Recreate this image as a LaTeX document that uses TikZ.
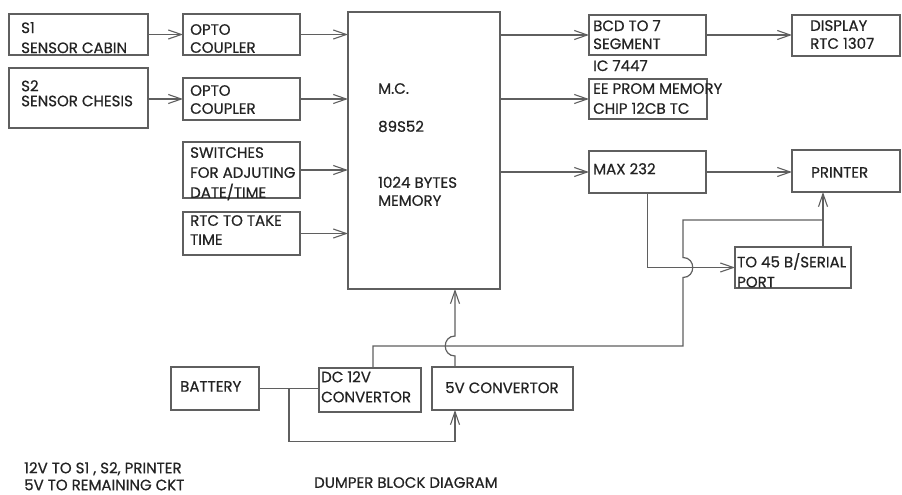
\documentclass[tikz,border=0pt]{standalone}
\usepackage{fontspec}
\setmainfont{Poppins}
\newfontfamily\lblfont{Poppins}[FakeBold=0.6]
\usetikzlibrary{arrows.meta,calc}
\definecolor{ln}{RGB}{95,95,95}
\definecolor{tx}{RGB}{35,35,35}
\begin{document}
\begin{tikzpicture}[x=1pt,y=-1pt,
  box/.style={draw=ln,line width=1.3pt,inner sep=0pt,outer sep=0pt,anchor=north west},
  lbl/.style={anchor=north west,inner sep=0pt,align=left,text=tx,font=\lblfont\fontsize{15}{19}\selectfont},
  wire/.style={draw=ln,line width=1.2pt},
  arr/.style={wire,-{Straight Barb[length=13pt,width=9pt,line width=1.1pt]}}]
\useasboundingbox (0,0) rectangle (902,495);
% boxes
\node[box,minimum width=139pt,minimum height=41pt] (s1) at (9,14) {};
\node[box,minimum width=139pt,minimum height=60pt] (s2) at (9,68) {};
\node[box,minimum width=117pt,minimum height=41pt] (o1) at (183,14) {};
\node[box,minimum width=117pt,minimum height=42pt] (o2) at (183,78) {};
\node[box,minimum width=117pt,minimum height=56pt] (sw) at (183,142) {};
\node[box,minimum width=117pt,minimum height=43pt] (rtc) at (183,212) {};
\node[box,minimum width=152pt,minimum height=277pt] (mc) at (348,12) {};
\node[box,minimum width=117pt,minimum height=40pt] (bcd) at (589,15) {};
\node[box,minimum width=118pt,minimum height=40pt] (ee) at (589,79) {};
\node[box,minimum width=108pt,minimum height=41pt] (disp) at (792,15) {};
\node[box,minimum width=117pt,minimum height=42pt] (max) at (589,151) {};
\node[box,minimum width=108pt,minimum height=42pt] (prn) at (792,150) {};
\node[box,minimum width=116pt,minimum height=41pt] (to45) at (735,247) {};
\node[box,minimum width=88pt,minimum height=43pt] (bat) at (171,367) {};
\node[box,minimum width=102pt,minimum height=44pt] (dc) at (319,368) {};
\node[box,minimum width=141pt,minimum height=43pt] (v5) at (432,367) {};
% labels
\node[lbl] (ts1) at (21,22) {S1\\[1pt]SENSOR CABIN};
\node[lbl] (ts2) at (21,80) {S2\\[-4pt]SENSOR CHESIS};
\node[lbl] (to1) at (190,24) {OPTO\\[-1pt]COUPLER};
\node[lbl] (to2) at (190,85) {OPTO\\[-1pt]COUPLER};
\node[lbl] (tsw) at (190,147) {SWITCHES\\[1pt]FOR ADJUTING\\[1pt]DATE/TIME};
\node[lbl] (trtc) at (190,215) {RTC TO TAKE\\TIME};
\node[lbl] (tmc) at (378,83) {M.C.\\[19pt]89S52\\[37pt]1024 BYTES\\[-1pt]MEMORY};
\node[lbl] (tbcd) at (593,20) {BCD TO 7\\[-1pt]SEGMENT\\[3pt]IC 7447};
\node[lbl] (tee) at (593,83) {EE PROM MEMORY\\[1pt]CHIP 12CB TC};
\node[lbl] (tdisp) at (810,20) {DISPLAY\\[-1pt]RTC 1307};
\node[lbl] (tmax) at (593,163) {MAX 232};
\node[lbl] (tprn) at (811,167) {PRINTER};
\node[lbl] (tto45) at (737,253) {TO 45 B/SERIAL\\[1pt]PORT};
\node[lbl] (tbat) at (180,381) {BATTERY};
\node[lbl] (tdc) at (321,371) {DC 12V\\[1pt]CONVERTOR};
\node[lbl] (tv5) at (445,382) {5V CONVERTOR};
\node[lbl] (tnote) at (24,462) {12V TO S1 , S2, PRINTER\\[-2pt]5V TO REMAINING CKT};
\node[lbl] (ttitle) at (314,477) {DUMPER BLOCK DIAGRAM};
% connectors
\draw[arr] (s1.east) -- (o1.west);
\draw[arr] (s2.east |- o2.west) -- (o2.west);
\draw[arr] (o1.east) -- (o1.east -| mc.west);
\draw[arr] (o2.east) -- (o2.east -| mc.west);
\draw[arr] (sw.east) -- (sw.east -| mc.west);
\draw[arr] (rtc.east) -- (rtc.east -| mc.west);
\draw[arr] (mc.east |- bcd.west) -- (bcd.west);
\draw[arr] (mc.east |- ee.west) -- (ee.west);
\draw[arr] (mc.east |- max.west) -- (max.west);
\draw[arr] (bcd.east) -- (bcd.east -| disp.west);
\draw[arr] (max.east) -- (max.east -| prn.west);
\draw[arr] (max.south) |- (to45.west);
% serial port to printer
\coordinate (tp) at ($(to45.north west)+(88,0)$);
\coordinate (jn) at ($(tp)+(0,-27)$);
\draw[arr] (tp) -- (tp |- prn.south);
% 12V line to printer
\coordinate (d12) at ($(dc.north west)+(54,0)$);
\coordinate (rx) at (683,346);
\draw[wire] (d12) |- (rx) -- ($(rx |- to45.west)+(0,10)$)
  .. controls +(13,0) and +(13,0) .. ++(0,-20) -- (rx |- jn) -- (jn);
% 5V to M.C.
\coordinate (v5t) at ($(v5.north west)+(23,0)$);
\draw[arr] (v5t) -- ($(v5t |- rx)+(0,10)$)
  .. controls +(-13,0) and +(-13,0) .. ++(0,-20) -- (v5t |- mc.south);
% battery
\draw[wire] (bat.east) -- (bat.east -| dc.west);
\coordinate (br) at ($(bat.east)+(30,0)$);
\coordinate (v5b) at ($(v5.south west)+(23,0)$);
\draw[arr] (br) -- ++(0,53) -| (v5b);
\end{tikzpicture}
\end{document}
